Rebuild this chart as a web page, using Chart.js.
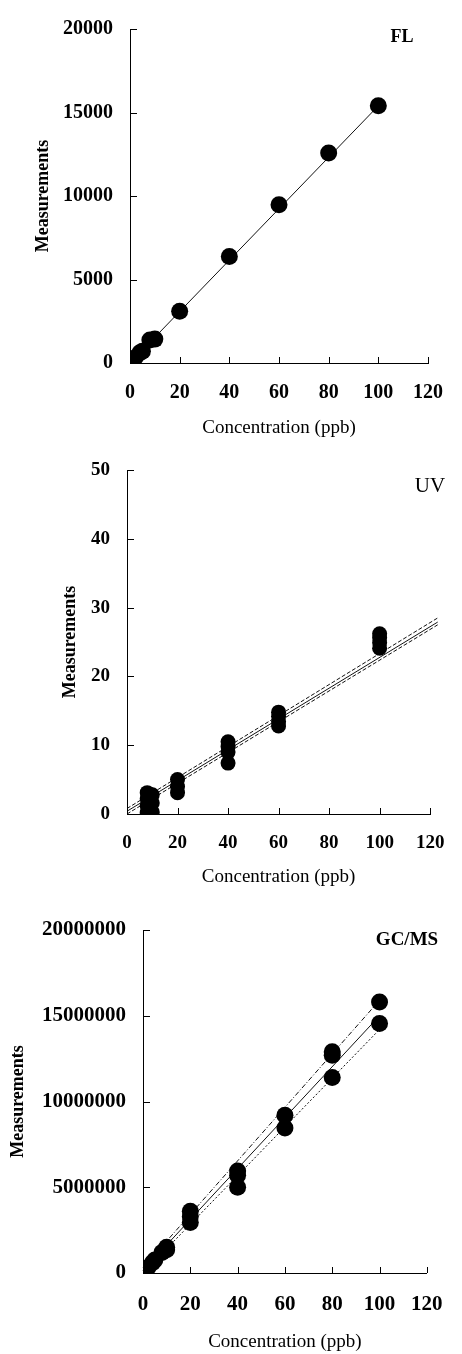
<!DOCTYPE html>
<html><head><meta charset="utf-8">
<script src="https://cdn.jsdelivr.net/npm/chart.js@4/dist/chart.umd.min.js"></script>
<style>
html,body{margin:0;padding:0;background:#fff;}
#wrap{position:relative;width:462px;height:1354px;background:#fff;}
canvas{position:absolute;left:0;}
</style></head><body>
<div id="wrap">
<canvas id="c1" width="462" height="440" style="top:0px"></canvas>
<canvas id="c2" width="462" height="450" style="top:440px"></canvas>
<canvas id="c3" width="462" height="464" style="top:890px"></canvas>
</div>
<script>
// ---------- data ----------
const xTicks = [0, 20, 40, 60, 80, 100, 120];
const flYTicks = [0, 5000, 10000, 15000, 20000];
const uvYTicks = [0, 10, 20, 30, 40, 50];
const gcYTicks = [0, 5000000, 10000000, 15000000, 20000000];

const panelLabels = ["FL", "UV", "GC/MS"];
const xTitle = "Concentration (ppb)";
const yTitle = "Measurements";

// FL
const flConc = [0, 0.5, 1, 2, 4, 5, 8, 10, 20, 40, 60, 80, 100];
const flMeas = [10, 80, 160, 320, 620, 700, 1380, 1430, 3100, 6380, 9480, 12580, 15400];
const flFitConc = [0, 100];
const flFitMeas = [0, 15400];

// UV
const uvConc = [8, 8, 8, 8, 10, 10, 10, 20, 20, 20, 40, 40, 40, 40, 60, 60, 60, 60, 100, 100, 100, 100];
const uvMeas = [0.2, 1.2, 2.2, 3.1, 0.3, 1.6, 2.8, 3.1, 4.0, 5.0, 7.4, 9.0, 9.8, 10.5, 12.8, 13.4, 14.2, 14.8, 24.1, 24.9, 25.6, 26.2];
const uvFitConc = [0, 123];
const uvUpper = [0.8, 28.5];
const uvFit = [0.4, 27.9];
const uvLower = [0.0, 27.5];

// GC/MS
const gcConc = [0, 0.5, 1, 2, 4, 5, 8, 10, 10, 20, 20, 20, 40, 40, 40, 60, 60, 80, 80, 80, 100, 100];
const gcMeas = [20000, 80000, 160000, 310000, 600000, 760000, 1200000, 1350000, 1500000, 2950000, 3300000, 3600000, 5000000, 5700000, 5950000, 8450000, 9200000, 11400000, 12700000, 12900000, 14550000, 15800000];
const gcFitConc = [0, 100];
const gcUpper = [300000, 15900000];
const gcFit = [150000, 15000000];
const gcLower = [0, 14200000];

// ---------- helpers ----------
const zip = (xs, ys) => xs.map((x, i) => ({x: x, y: ys[i]}));
const SERIF = '"Liberation Serif", "Times New Roman", serif';
Chart.defaults.color = '#000';
Chart.defaults.font.family = SERIF;
Chart.defaults.animation = false;

const decor = {
  id: 'decor',
  afterDraw(chart, args, opts) {
    const ctx = chart.ctx, xs = chart.scales.x, ys = chart.scales.y, a = chart.chartArea;
    ctx.save();
    ctx.strokeStyle = '#000'; ctx.lineWidth = 1;
    ctx.beginPath();
    xs.ticks.forEach(t => { const px = Math.round(xs.getPixelForValue(t.value)) + 0.5; ctx.moveTo(px, a.bottom); ctx.lineTo(px, a.bottom - 6); });
    ys.ticks.forEach(t => { const py = Math.round(ys.getPixelForValue(t.value)) + 0.5; ctx.moveTo(a.left, py); ctx.lineTo(a.left + 7, py); });
    ctx.stroke();
    ctx.font = opts.font; ctx.fillStyle = '#000';
    ctx.textAlign = 'center'; ctx.textBaseline = 'middle';
    ctx.fillText(opts.text, opts.x, opts.y);
    ctx.restore();
  }
};

function makePanel(id, L) {
  const canvas = document.getElementById(id);
  const W = canvas.width, H = canvas.height;
  const tickSize = L.tickSize, tickLH = tickSize * 1.2;
  const xtSize = 19, xtLH = xtSize * 1.2;
  const ytSize = 18, ytLH = ytSize * 1.2;
  const datasets = [
    {data: L.points, showLine: false, pointRadius: L.r, pointHoverRadius: L.r, pointBackgroundColor: '#000', pointBorderColor: '#000', pointBorderWidth: 0, order: 0}
  ];
  L.lines.forEach(ln => datasets.push({
    data: ln.data, showLine: true, pointRadius: 0, borderColor: ln.color || '#111', borderWidth: 1,
    borderDash: ln.dash || [], order: 1, clip: false, fill: false
  }));
  return new Chart(canvas, {
    type: 'scatter',
    data: {datasets: datasets},
    options: {
      responsive: false, devicePixelRatio: 1, animation: false,
      layout: {padding: {left: 0, top: L.top, right: W - L.right, bottom: 0}},
      plugins: {legend: {display: false}, tooltip: {enabled: false},
        decor: {text: L.label, font: L.labelFont, x: L.lx, y: L.ly}},
      scales: {
        x: {
          type: 'linear', min: 0, max: 120,
          afterBuildTicks: s => { s.ticks = xTicks.map(v => ({value: v})); },
          afterFit: s => { s.height = H - L.bottom; },
          grid: {display: false, drawTicks: false},
          border: {display: true, color: '#000', width: 1},
          ticks: {padding: L.xLabOff - tickLH / 2, font: {size: tickSize, weight: 'bold'}, color: '#000', maxRotation: 0, callback: v => String(v)},
          title: {display: true, text: xTitle, font: {size: xtSize}, color: '#000', padding: {top: 0, bottom: L.xTitleOff - xtLH / 2}}
        },
        y: {
          type: 'linear', min: L.ymin, max: L.ymax,
          afterBuildTicks: s => { s.ticks = L.yTicks.map(v => ({value: v})); },
          afterFit: s => { s.width = L.left; },
          grid: {display: false, drawTicks: false},
          border: {display: true, color: '#000', width: 1},
          ticks: {padding: 17, font: {size: tickSize, weight: 'bold'}, color: '#000', callback: v => String(v)},
          title: {display: true, text: yTitle, font: {size: ytSize, weight: 'bold'}, color: '#000', padding: {top: L.yTitleX - ytLH / 2, bottom: 0}}
        }
      }
    },
    plugins: [decor]
  });
}

makePanel('c1', {
  left: 130, right: 428, top: 21, bottom: 363, xLabOff: 30, xTitleOff: 12, yTitleX: 43, tickSize: 20,
  ymin: 0, ymax: 20000, yTicks: flYTicks, r: 8.5,
  points: zip(flConc, flMeas),
  lines: [{data: zip(flFitConc, flFitMeas)}],
  label: panelLabels[0], labelFont: 'bold 18px ' + SERIF, lx: 402, ly: 37
});
makePanel('c2', {
  left: 127, right: 444, top: 30, bottom: 374, xLabOff: 29, xTitleOff: 13, yTitleX: 70, tickSize: 19,
  ymin: 0, ymax: 50, yTicks: uvYTicks, r: 7.5,
  points: zip(uvConc, uvMeas),
  lines: [
    {data: zip(uvFitConc, uvUpper), dash: [4, 2]},
    {data: zip(uvFitConc, uvFit)},
    {data: zip(uvFitConc, uvLower), dash: [4, 2]}
  ],
  label: panelLabels[1], labelFont: '21px ' + SERIF, lx: 430, ly: 46
});
makePanel('c3', {
  left: 143, right: 438, top: 40, bottom: 383, xLabOff: 32, xTitleOff: 12, yTitleX: 18, tickSize: 21,
  ymin: 0, ymax: 20000000, yTicks: gcYTicks, r: 8.5,
  points: zip(gcConc, gcMeas),
  lines: [
    {data: zip(gcFitConc, gcUpper), dash: [5, 2, 1, 2]},
    {data: zip(gcFitConc, gcFit)},
    {data: zip(gcFitConc, gcLower), dash: [2, 2]}
  ],
  label: panelLabels[2], labelFont: 'bold 19px ' + SERIF, lx: 407, ly: 50
});
</script>
</body></html>
